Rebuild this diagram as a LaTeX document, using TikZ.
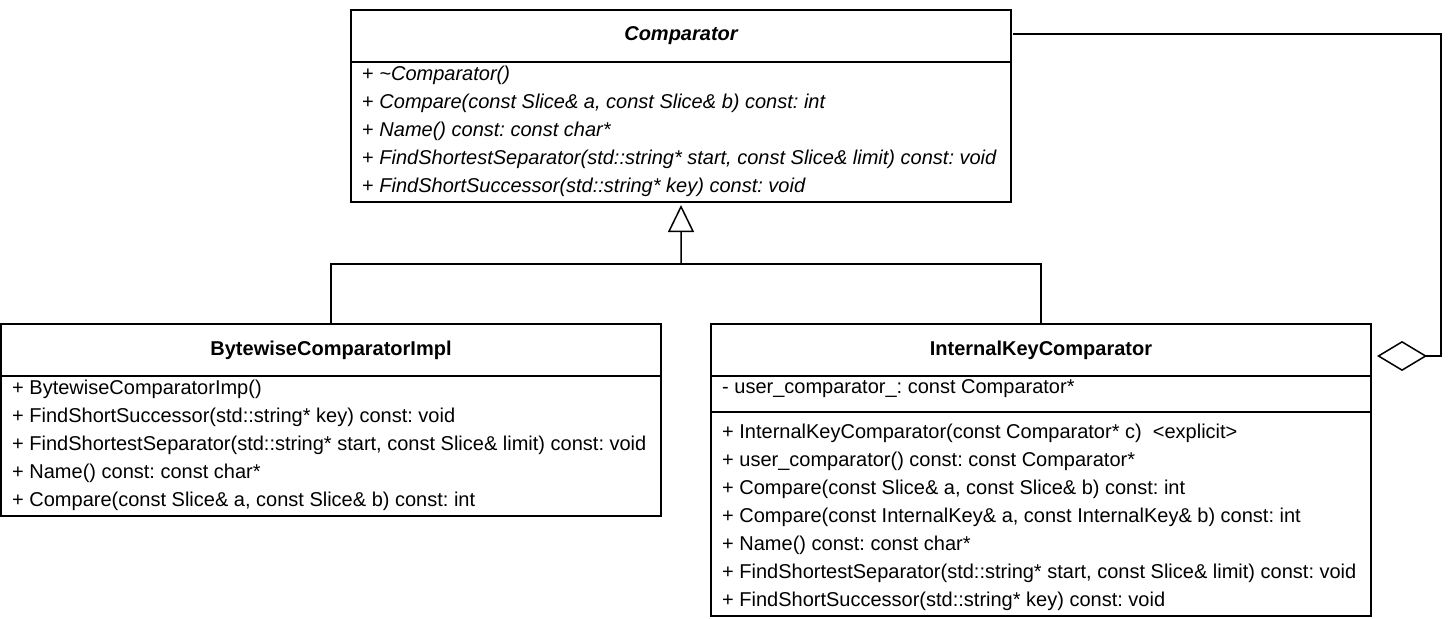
\documentclass[tikz,border=0pt]{standalone}
\usepackage{fontspec}
\setmainfont{Liberation Sans}
\usetikzlibrary{arrows.meta}
\frenchspacing

\begin{document}
\begin{tikzpicture}[x=1bp, y=-1bp,
  line/.style={black, line width=1.5bp},
  classbox/.style={line, draw, rectangle, anchor=north west, inner sep=0pt, outer sep=0pt},
  member/.style={anchor=west, inner sep=0pt, font=\fontsize{20bp}{24bp}\selectfont},
  title/.style={anchor=center, inner sep=0pt, font=\fontsize{20bp}{24bp}\selectfont\bfseries},
  inherit/.style={line, -{Triangle[open, length=27bp, width=26bp, line width=1.5bp]}},
  aggregate/.style={line, -{Diamond[open, length=50bp, width=30bp, line width=1.5bp]}}]
\useasboundingbox (0,0) rectangle (1450,619);

% Comparator
\node[classbox, minimum width=660bp, minimum height=192bp] (cmp) at (351,10) {};
\draw[line] (351,62) -- (1011,62);
\node[title] (cmpname) at (681,36) {\itshape Comparator};
\node[member] (cmp1) at (362,75) {+ \textit{\textasciitilde Comparator()}};
\node[member] (cmp2) at (362,103) {+ \textit{Compare(const Slice\& a, const Slice\& b) const: int}};
\node[member] (cmp3) at (362,131) {+ \textit{Name() const: const char*}};
\node[member] (cmp4) at (362,159) {+ \textit{FindShortestSeparator(std::string* start, const Slice\& limit) const: void}};
\node[member] (cmp5) at (362,187) {+ \textit{FindShortSuccessor(std::string* key) const: void}};

% BytewiseComparatorImpl
\node[classbox, minimum width=660bp, minimum height=192bp] (bwc) at (1,324) {};
\draw[line] (1,376) -- (661,376);
\node[title] (bwcname) at (331,350) {BytewiseComparatorImpl};
\node[member] (bwc1) at (12,389) {+ BytewiseComparatorImp()};
\node[member] (bwc2) at (12,417) {+ FindShortSuccessor(std::string* key) const: void};
\node[member] (bwc3) at (12,445) {+ FindShortestSeparator(std::string* start, const Slice\& limit) const: void};
\node[member] (bwc4) at (12,473) {+ Name() const: const char*};
\node[member] (bwc5) at (12,501) {+ Compare(const Slice\& a, const Slice\& b) const: int};

% InternalKeyComparator
\node[classbox, minimum width=660bp, minimum height=292bp] (ikc) at (711,324) {};
\draw[line] (711,376) -- (1371,376);
\draw[line] (711,412) -- (1371,412);
\node[title] (ikcname) at (1041,350) {InternalKeyComparator};
\node[member] (ikc0) at (722,389) {- user\_comparator\_: const Comparator*};
\node[member] (ikc1) at (722,433) {+ InternalKeyComparator(const Comparator* c)\ \ <explicit>};
\node[member] (ikc2) at (722,461) {+ user\_comparator() const: const Comparator*};
\node[member] (ikc3) at (722,489) {+ Compare(const Slice\& a, const Slice\& b) const: int};
\node[member] (ikc4) at (722,517) {+ Compare(const InternalKey\& a, const InternalKey\& b) const: int};
\node[member] (ikc5) at (722,545) {+ Name() const: const char*};
\node[member] (ikc6) at (722,573) {+ FindShortestSeparator(std::string* start, const Slice\& limit) const: void};
\node[member] (ikc7) at (722,601) {+ FindShortSuccessor(std::string* key) const: void};

% inheritance
\coordinate (join) at (681,264);
\draw[inherit, shorten >=3bp] (join) -- (cmp.south);
\draw[line] (bwc.north) |- (join);
\draw[line] (ikc.north) |- (join);

% aggregation
\coordinate (aggend) at (1377,356);
\draw[aggregate] (cmp.north east) ++(2,24) -| (1441,356) -- (aggend);

\end{tikzpicture}
\end{document}
